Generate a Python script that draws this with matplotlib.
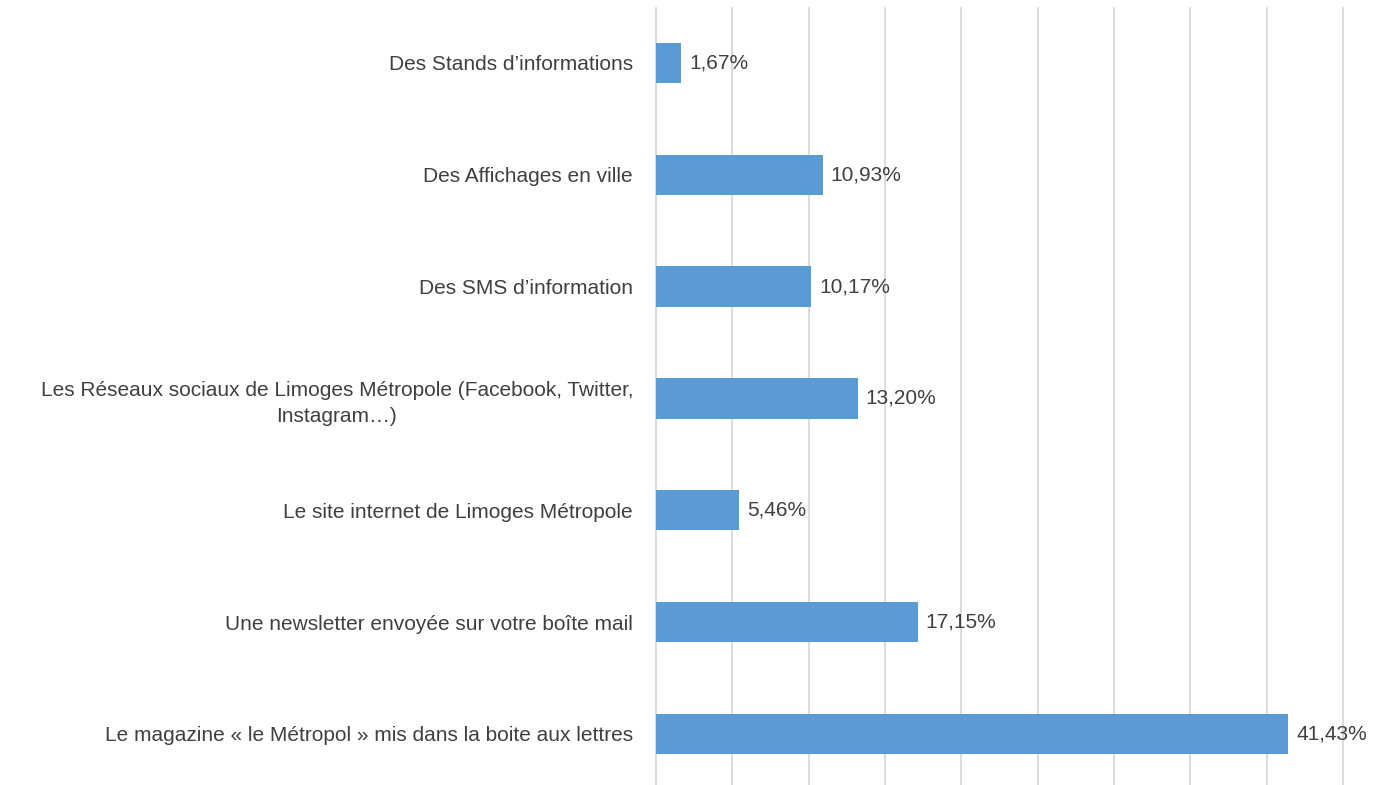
import numpy as np
import matplotlib
matplotlib.use("Agg")
import matplotlib.pyplot as plt

# données (de haut en bas)
categories = [
    "Des Stands d\u2019informations",
    "Des Affichages en ville",
    "Des SMS d\u2019information",
    "Les Réseaux sociaux de Limoges Métropole (Facebook, Twitter,\nInstagram\u2026)",
    "Le site internet de Limoges Métropole",
    "Une newsletter envoyée sur votre boîte mail",
    "Le magazine « le Métropol » mis dans la boite aux lettres",
]
values = [1.67, 10.93, 10.17, 13.20, 5.46, 17.15, 41.43]
value_labels = ["1,67%", "10,93%", "10,17%", "13,20%", "5,46%", "17,15%", "41,43%"]

plt.rcParams['font.family'] = ['Liberation Sans', 'DejaVu Sans']
txt_color = "#404040"

fig = plt.figure(figsize=(13.85, 7.85), dpi=100)
ax = fig.add_axes([656/1385, 0, (1343-656)/1385, 1-8/785])

y = np.arange(len(categories))[::-1]
ax.barh(y, values, height=0.36, color="#5B9BD5", zorder=2)

for yi, v, lab in zip(y, values, value_labels):
    ax.text(v + 0.5, yi, lab, va="center", ha="left", fontsize=15,
            color=txt_color, zorder=3)

ax.set_xlim(0, 45)
ax.set_ylim(-0.456, 6.49)
ax.set_xticks(np.arange(0, 46, 5))
ax.set_xticklabels([])
ax.tick_params(axis="x", length=0)
ax.grid(axis="x", color="#D9D9D9", lw=1.3, zorder=0)
for gl in ax.get_xgridlines():
    gl.set_clip_on(False)
ax.set_yticks(y)
ax.set_yticklabels(categories, fontsize=15, color=txt_color,
                   multialignment="center", linespacing=1.45)
ax.tick_params(axis="y", length=0, pad=16.5)
for s in ax.spines.values():
    s.set_visible(False)

fig.savefig("out.png", dpi=100)
